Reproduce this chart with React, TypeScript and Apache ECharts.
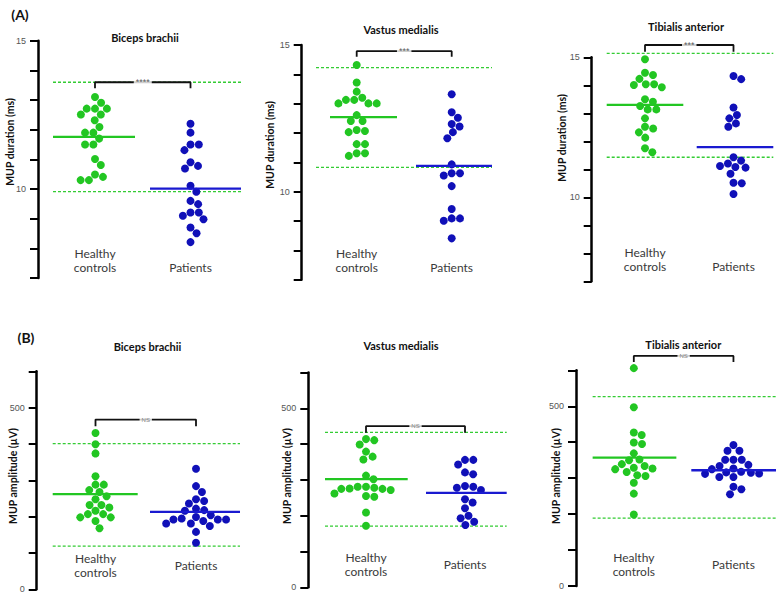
import React, { useEffect, useRef } from 'react';
import * as echarts from 'echarts';

// ---------- data ----------
const groups = ['Healthy\ncontrols', 'Patients'];
const muscles = ['Biceps brachii', 'Vastus medialis', 'Tibialis anterior'];
const durationName = 'MUP duration (ms)';
const amplitudeName = 'MUP amplitude (µV)';
const panelLetters = ['(A)', '(B)'];

// MUP duration (ms)
const bicepsDurControls = [13.1, 12.91, 12.71, 12.71, 12.71, 12.51, 12.51, 12.32, 12.09, 11.9, 11.9, 11.7, 11.5, 11.5, 11.01, 10.81, 10.49, 10.41, 10.3, 10.3];
const bicepsDurPatients = [12.2, 11.9, 11.5, 11.5, 11.31, 10.9, 10.78, 10.69, 10.11, 9.91, 9.6, 9.49, 9.21, 9.21, 9.1, 8.98, 8.7, 8.51, 8.21];
const vastusDurControls = [14.32, 13.72, 13.41, 13.2, 13.13, 13.13, 13.01, 13.01, 13.01, 12.61, 12.41, 12.41, 12.1, 12.07, 12.03, 11.62, 11.62, 11.31, 11.31, 11.22];
const vastusDurPatients = [13.32, 12.71, 12.52, 12.31, 12.22, 12.03, 11.82, 10.93, 10.63, 10.63, 10.55, 10.19, 9.41, 9.09, 9.09, 9.01, 8.41];
const tibialisDurControls = [14.93, 14.45, 14.37, 14.23, 14.04, 14.04, 14.01, 13.93, 13.5, 13.41, 13.26, 13.14, 13.14, 12.82, 12.52, 12.46, 12.32, 12.13, 11.75, 11.61];
const tibialisDurPatients = [14.33, 14.22, 13.21, 12.94, 12.82, 12.64, 12.52, 11.43, 11.31, 11.21, 11.12, 11.08, 11.06, 10.84, 10.52, 10.5, 10.12];

// MUP amplitude (µV)
const bicepsAmpControls = [430, 399, 374, 311, 288, 288, 273, 268, 256, 248, 232, 232, 225, 216, 207, 207, 198, 198, 188, 168];
const bicepsAmpPatients = [332, 284, 268, 248, 243, 236, 222, 218, 216, 204, 199, 195, 192, 192, 192, 188, 181, 181, 174, 158, 128];
const vastusAmpControls = [414, 411, 399, 379, 365, 357, 312, 302, 281, 281, 278, 276, 275, 275, 272, 262, 255, 253, 209, 172];
const vastusAmpPatients = [356, 356, 343, 321, 316, 283, 281, 278, 272, 246, 237, 221, 200, 193, 183, 174];
const tibialisAmpControls = [606, 497, 427, 420, 399, 395, 369, 352, 350, 339, 334, 329, 327, 325, 317, 308, 306, 287, 257, 199];
const tibialisAmpPatients = [392, 376, 376, 351, 351, 351, 337, 334, 327, 325, 318, 316, 315, 313, 312, 303, 303, 276, 269, 255];

// group means (solid lines)
const durMeans = [[11.76, 10.01], [12.54, 10.88], [13.3, 11.79]];
const ampMeans = [[262, 213], [302, 264], [357, 322]];
// reference range (dashed lines): [lower, upper]
const durRefRange = [[9.91, 13.6], [10.83, 14.23], [11.43, 15.14]];
const ampRefRange = [[119, 401], [171, 433], [189, 527]];
// significance brackets: [leg end, bar level], label
const durBracket = [[13.4, 13.6], [14.6, 14.79], [15.2, 15.44]];
const ampBracket = [[449, 467], [432, 450], [623, 640]];
const durSig = ['****', '***', '***'];
const ampSig = ['NS', 'NS', 'NS'];

// axes
const durAxis = { min: 7, max: 15, interval: 1, labels: [10, 15] };
const ampAxis = { min: 0, max: 600, interval: 100, labels: [0, 500] };

// ---------- layout (pixels) ----------
type Layout = {
  left: number; c1: number; c2: number; top: number; bottom: number;
  refX: number[]; meanX: number[][]; titleX: number; titleY: number;
  nameX: number; nameY: number; labelMargin: number; labelVA: string;
};
const layouts: Layout[] = [
  { left: 38, c1: 95, c2: 190.5, top: 40.7, bottom: 278, refX: [53, 241], meanX: [[53, 135], [150, 241]], titleX: 145, titleY: 37, nameX: 10, nameY: 142, labelMargin: -4, labelVA: 'bottom' },
  { left: 301.7, c1: 356.7, c2: 451.7, top: 45, bottom: 279.7, refX: [316, 492], meanX: [[330, 397], [416, 492]], titleX: 401, titleY: 29.5, nameX: 270, nameY: 145, labelMargin: -5, labelVA: 'bottom' },
  { left: 591.7, c1: 645, c2: 733.5, top: 57.3, bottom: 281.3, refX: [606.7, 773.3], meanX: [[606.7, 683.3], [696.7, 773.3]], titleX: 686, titleY: 26, nameX: 561.7, nameY: 138, labelMargin: -8, labelVA: 'bottom' },
  { left: 36.7, c1: 95.5, c2: 196, top: 371.3, bottom: 589.3, refX: [52.7, 240], meanX: [[52.7, 137.7], [150, 240]], titleX: 147.5, titleY: 346.7, nameX: 13.3, nameY: 476, labelMargin: -24, labelVA: 'middle' },
  { left: 308.3, c1: 366, c2: 465, top: 372.5, bottom: 587.3, refX: [325, 506.7], meanX: [[325, 407.7], [426, 506.7]], titleX: 401, titleY: 345, nameX: 286.7, nameY: 476, labelMargin: -23, labelVA: 'middle' },
  { left: 576, c1: 634, c2: 734, top: 370.3, bottom: 586, refX: [592.7, 776.7], meanX: [[592.7, 676.7], [691.7, 776.7]], titleX: 683.3, titleY: 344.3, nameX: 556, nameY: 476, labelMargin: -22, labelVA: 'middle' },
];
const letterPos = [[20, 14], [26, 337]];

const GREEN = '#22c622';
const GREEN_DASH = '#33cc33';
const BLUE = '#1010b8';
const BLUE_LINE = '#1a1ad0';
const DOT = 8;
const CAL = 'Lato, "Open Sans", sans-serif';
const NUM = '"Liberation Sans", Arial, sans-serif';

function swarm(values: number[], ppu: number, d: number): number[] {
  const idx = values.map((_, i) => i).sort((a, b) => values[b] - values[a]);
  const placed: { x: number; y: number }[] = [];
  const out = new Array(values.length).fill(0);
  for (const i of idx) {
    const y = -values[i] * ppu;
    const cands = [0];
    for (const p of placed) {
      const dy = Math.abs(p.y - y);
      if (dy < d) {
        const dx = Math.sqrt(d * d - dy * dy);
        cands.push(p.x + dx, p.x - dx);
      }
    }
    cands.sort((a, b) => Math.abs(a) - Math.abs(b) || b - a);
    let chosen = 0;
    for (const c of cands) {
      if (placed.every((p) => (p.x - c) ** 2 + (p.y - y) ** 2 >= d * d - 0.01)) { chosen = c; break; }
    }
    placed.push({ x: chosen, y });
    out[i] = chosen;
  }
  return out;
}

function buildOption() {
  const panels = [
    { ctrl: bicepsDurControls, pat: bicepsDurPatients, mean: durMeans[0], ref: durRefRange[0], br: durBracket[0], sig: durSig[0], axis: durAxis, name: durationName, title: muscles[0] },
    { ctrl: vastusDurControls, pat: vastusDurPatients, mean: durMeans[1], ref: durRefRange[1], br: durBracket[1], sig: durSig[1], axis: durAxis, name: durationName, title: muscles[1] },
    { ctrl: tibialisDurControls, pat: tibialisDurPatients, mean: durMeans[2], ref: durRefRange[2], br: durBracket[2], sig: durSig[2], axis: durAxis, name: durationName, title: muscles[2] },
    { ctrl: bicepsAmpControls, pat: bicepsAmpPatients, mean: ampMeans[0], ref: ampRefRange[0], br: ampBracket[0], sig: ampSig[0], axis: ampAxis, name: amplitudeName, title: muscles[0] },
    { ctrl: vastusAmpControls, pat: vastusAmpPatients, mean: ampMeans[1], ref: ampRefRange[1], br: ampBracket[1], sig: ampSig[1], axis: ampAxis, name: amplitudeName, title: muscles[1] },
    { ctrl: tibialisAmpControls, pat: tibialisAmpPatients, mean: ampMeans[2], ref: ampRefRange[2], br: ampBracket[2], sig: ampSig[2], axis: ampAxis, name: amplitudeName, title: muscles[2] },
  ];

  const grid: any[] = [];
  const xAxis: any[] = [];
  const yAxis: any[] = [];
  const series: any[] = [];
  const graphic: any[] = [];

  panels.forEach((p, i) => {
    const L = layouts[i];
    const u = L.c2 - L.c1;
    const toX = (px: number) => 1 + (px - L.c1) / u;
    const right = L.refX[1] + 4;
    grid.push({ left: L.left, top: L.top, width: right - L.left, height: L.bottom - L.top });
    xAxis.push({
      type: 'value', gridIndex: i, min: toX(L.left), max: toX(right),
      axisLine: { show: false }, axisTick: { show: false }, splitLine: { show: false },
      axisLabel: {
        customValues: [1, 2],
        formatter: (v: number) => groups[Math.round(v) - 1],
        margin: L.labelMargin, verticalAlign: L.labelVA,
        fontFamily: CAL, fontSize: 12, lineHeight: 14, color: '#3a3a3a',
      },
    });
    yAxis.push({
      type: 'value', gridIndex: i, min: p.axis.min, max: p.axis.max, interval: p.axis.interval,
      axisLine: { show: true, lineStyle: { color: '#000', width: 2.5 } },
      axisTick: { show: true, length: 8, lineStyle: { color: '#000', width: 2 } },
      splitLine: { show: false },
      axisLabel: {
        formatter: (v: number) => (p.axis.labels.includes(v) ? String(v) : ''),
        margin: 12, fontSize: 9, color: '#555', fontFamily: NUM,
      },
    });

    const ppu = (L.bottom - L.top) / (p.axis.max - p.axis.min);
    const offC = swarm(p.ctrl, ppu, DOT + 0.3);
    const offP = swarm(p.pat, ppu, DOT + 0.3);

    // reference range (dashed)
    p.ref.forEach((r) => {
      series.push({
        type: 'line', xAxisIndex: i, yAxisIndex: i, symbol: 'none', silent: true, z: 1, clip: false,
        data: [[toX(L.refX[0]), r], [toX(L.refX[1]), r]],
        lineStyle: { color: GREEN_DASH, width: 1.3, type: [3, 2] },
      });
    });
    // dots
    series.push({
      type: 'scatter', xAxisIndex: i, yAxisIndex: i, symbol: 'circle', symbolSize: DOT, z: 3, clip: false,
      itemStyle: { color: GREEN, opacity: 1 },
      data: p.ctrl.map((v, k) => ({ value: [1, v], symbolOffset: [offC[k], 0] })),
    });
    series.push({
      type: 'scatter', xAxisIndex: i, yAxisIndex: i, symbol: 'circle', symbolSize: DOT, z: 3, clip: false,
      itemStyle: { color: BLUE, opacity: 1 },
      data: p.pat.map((v, k) => ({ value: [2, v], symbolOffset: [offP[k], 0] })),
    });
    // means
    [0, 1].forEach((g) => {
      series.push({
        type: 'line', xAxisIndex: i, yAxisIndex: i, symbol: 'none', silent: true, z: 4,
        data: [[toX(L.meanX[g][0]), p.mean[g]], [toX(L.meanX[g][1]), p.mean[g]]],
        lineStyle: { color: g === 0 ? GREEN : BLUE_LINE, width: 2.3 },
      });
    });
    // significance bracket
    series.push({
      type: 'line', xAxisIndex: i, yAxisIndex: i, symbol: 'none', silent: true, z: 5, clip: false,
      data: [[1, p.br[0]], [1, p.br[1]], [2, p.br[1]], [2, p.br[0]]],
      lineStyle: { color: '#111', width: 1.8 },
    });
    series.push({
      type: 'scatter', xAxisIndex: i, yAxisIndex: i, symbolSize: 0, z: 6, clip: false, silent: true,
      data: [[1.5, p.br[1]]],
      label: {
        show: true, position: 'inside', formatter: p.sig,
        fontSize: p.sig === 'NS' ? 6 : 9, color: p.sig === 'NS' ? '#666' : '#333',
        backgroundColor: '#fff', padding: [0, 2], fontFamily: NUM,
      },
    });

    graphic.push({
      type: 'text', x: L.titleX, y: L.titleY,
      style: { text: p.title, font: `bold 11px ${CAL}`, fill: '#111', textAlign: 'center', textVerticalAlign: 'middle' },
    });
    graphic.push({
      type: 'text', x: L.nameX, y: L.nameY, rotation: Math.PI / 2,
      style: { text: p.name, font: `bold 10.5px ${CAL}`, fill: '#111', textAlign: 'center', textVerticalAlign: 'middle' },
    });
  });

  panelLetters.forEach((t, k) => {
    graphic.push({
      type: 'text', x: letterPos[k][0], y: letterPos[k][1],
      style: { text: t, font: `bold 14px ${CAL}`, fill: '#111', textAlign: 'center', textVerticalAlign: 'middle' },
    });
  });

  return { animation: false, backgroundColor: '#fff', grid, xAxis, yAxis, series, graphic };
}

export default function App() {
  const ref = useRef<HTMLDivElement>(null);
  useEffect(() => {
    if (!ref.current) return;
    const chart = echarts.init(ref.current, undefined, { renderer: 'svg' });
    chart.setOption(buildOption());
    return () => chart.dispose();
  }, []);
  return <div ref={ref} style={{ position: 'fixed', left: 0, top: 0, width: 780, height: 597, background: '#fff' }} />;
}
